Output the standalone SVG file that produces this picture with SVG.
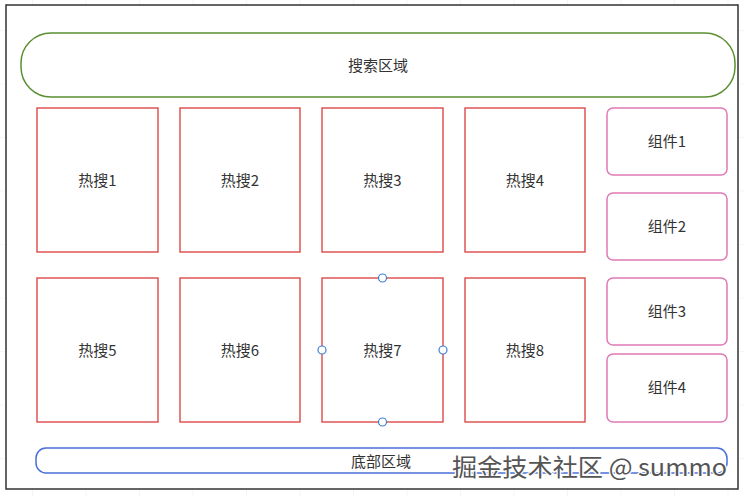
<svg xmlns="http://www.w3.org/2000/svg" width="745" height="497" viewBox="0 0 745 497">
<defs>
<pattern id="grid" x="32" y="30" width="53.5" height="53.5" patternUnits="userSpaceOnUse">
<path d="M0 0H53.5M0 0V53.5" fill="none" stroke="#ececec" stroke-width="1"/>
</pattern>
<style>
text{font-family:"Noto Sans CJK SC","Noto Sans",sans-serif;font-size:15px;fill:#333;text-anchor:middle;dominant-baseline:central}
.hot{fill:#fff;stroke:#e05555;stroke-width:1.5}
.comp{fill:#fff;stroke:#e07ab5;stroke-width:1.5}
.handle{fill:#fff;stroke:#3d7fd6;stroke-width:1.2}
</style>
</defs>
<rect width="745" height="497" fill="#fff"/>
<rect width="745" height="497" fill="url(#grid)"/>
<rect x="6" y="5" width="732" height="484" fill="#fff" stroke="#333" stroke-width="1.5"/>
<g id="search">
<rect x="21" y="33" width="714" height="64" rx="30" fill="#fff" stroke="#5b8f30" stroke-width="1.5"/>
<text x="378" y="64.5">搜索区域</text>
</g>
<g id="hot1"><rect class="hot" x="37" y="108" width="121" height="144"/><text x="97.5" y="179.5">热搜1</text></g>
<g id="hot2"><rect class="hot" x="180" y="108" width="120" height="144"/><text x="240" y="179.5">热搜2</text></g>
<g id="hot3"><rect class="hot" x="322" y="108" width="121" height="144"/><text x="382.5" y="179.5">热搜3</text></g>
<g id="hot4"><rect class="hot" x="465" y="108" width="120" height="144"/><text x="525" y="179.5">热搜4</text></g>
<g id="hot5"><rect class="hot" x="37" y="278" width="121" height="144"/><text x="97.5" y="349.5">热搜5</text></g>
<g id="hot6"><rect class="hot" x="180" y="278" width="120" height="144"/><text x="240" y="349.5">热搜6</text></g>
<g id="hot7"><rect class="hot" x="322" y="278" width="121" height="144"/><text x="382.5" y="349.5">热搜7</text>
<circle class="handle" cx="382.5" cy="278" r="4"/><circle class="handle" cx="322" cy="350" r="4"/><circle class="handle" cx="443" cy="350" r="4"/><circle class="handle" cx="382.5" cy="422" r="4"/></g>
<g id="hot8"><rect class="hot" x="465" y="278" width="120" height="144"/><text x="525" y="349.5">热搜8</text></g>
<g id="comp1"><rect class="comp" x="607" y="108" width="120" height="67" rx="6"/><text x="667" y="140.5">组件1</text></g>
<g id="comp2"><rect class="comp" x="607" y="193" width="120" height="67" rx="6"/><text x="667" y="225.5">组件2</text></g>
<g id="comp3"><rect class="comp" x="607" y="278" width="120" height="67" rx="6"/><text x="667" y="310.5">组件3</text></g>
<g id="comp4"><rect class="comp" x="607" y="354" width="120" height="68" rx="6"/><text x="667" y="386.5">组件4</text></g>
<g id="footer">
<rect x="36" y="448" width="691" height="25" rx="10" fill="#fff" stroke="#4a6fd6" stroke-width="1.5"/>
<text x="381" y="460">底部区域</text>
</g>
<g id="connectors"></g>
<text x="452" y="465" textLength="275" lengthAdjust="spacingAndGlyphs" style="font-size:24px;text-anchor:start;fill:#555;stroke:#fff;stroke-width:2.5;paint-order:stroke">掘金技术社区 @ summo</text>
</svg>
